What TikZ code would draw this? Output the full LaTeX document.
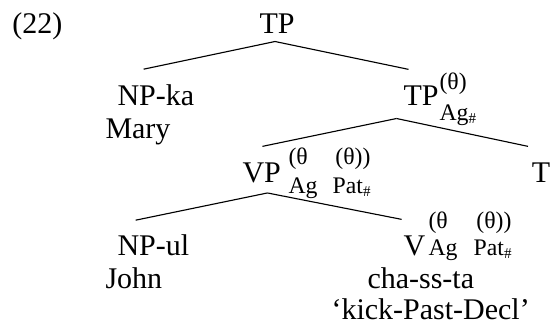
\documentclass[tikz,border=0pt]{standalone}
\usepackage{fontspec}
\setmainfont{Liberation Serif}
\usetikzlibrary{positioning}

\newcommand{\hashsub}{\raisebox{-1.4pt}{\fontsize{6}{7}\selectfont\#}}

\begin{document}
\begin{tikzpicture}[
  x=0.4pt, y=-0.4pt,
  cat/.style={inner sep=0pt, font=\fontsize{12}{14}\selectfont},
  feat/.style={inner sep=0pt, font=\fontsize{9.5}{11}\selectfont},
  branch/.style={line width=0.45pt},
]
  \useasboundingbox (0,0) rectangle (550,327);

  % Root
  \node[cat, anchor=base west] (exnum) at (12,33) {(22)};
  \node[cat, anchor=base] (root) at (277,33) {TP};

  % Subject
  \node[cat, anchor=base west] (npka) at (117,105) {NP-ka};
  \node[cat, anchor=base west] (mary) at (105,138) {Mary};

  % Lower TP
  \node[cat, anchor=base west] (tpb) at (403,105) {TP};
  \node[feat, anchor=base west] (tpbsup) at (439,89) {(θ)};
  \node[feat, anchor=base west] (tpbsub) at (439,120) {Ag\hashsub};
  \node[cat, anchor=base] (tnode) at (541,182) {T};

  % VP
  \node[cat, anchor=base west] (vp) at (242,182) {VP};
  \node[feat, anchor=base west] (vpsupa) at (288,164) {(θ};
  \node[feat, anchor=base east] (vpsupb) at (371,164) {(θ))};
  \node[feat, anchor=base west] (vpsuba) at (288,193) {Ag};
  \node[feat, anchor=base east] (vpsubb) at (371,193) {Pat\hashsub};

  % Object
  \node[cat, anchor=base west] (npul) at (117,255) {NP-ul};
  \node[cat, anchor=base west] (john) at (105,288) {John};

  % Verb
  \node[cat, anchor=base west] (v) at (403,255) {V};
  \node[feat, anchor=base west] (vsupa) at (428,228) {(θ};
  \node[feat, anchor=base east] (vsupb) at (512,228) {(θ))};
  \node[feat, anchor=base west] (vsuba) at (428,255) {Ag};
  \node[feat, anchor=base east] (vsubb) at (512,255) {Pat\hashsub};
  \node[cat, anchor=base west] (verb) at (367,288) {cha-ss-ta};
  \node[cat, anchor=base west] (gloss) at (331,319) {‘kick-Past-Decl’};

  % Branches
  \draw[branch] ([xshift=-0.8pt,yshift=-3.2pt]root.south) -- ([xshift=-4.9pt,yshift=5.8pt]npka.north);
  \draw[branch] ([xshift=-0.8pt,yshift=-3.2pt]root.south) -- ([xshift=-5pt,yshift=6.2pt]tpb.north);
  \draw[branch] ([xshift=-9.8pt,yshift=-5.2pt]tpb.south) -- ([xshift=0.3pt,yshift=6.2pt]vp.north);
  \draw[branch] ([xshift=-9.8pt,yshift=-5.2pt]tpb.south) -- ([xshift=-5.2pt,yshift=6.2pt]tnode.north);
  \draw[branch] ([xshift=2.3pt,yshift=-4pt]vp.south) -- ([xshift=-7.1pt,yshift=5.4pt]npul.north);
  \draw[branch] ([xshift=2.3pt,yshift=-4pt]vp.south) -- ([xshift=-5.1pt,yshift=6.2pt]v.north);
\end{tikzpicture}
\end{document}
